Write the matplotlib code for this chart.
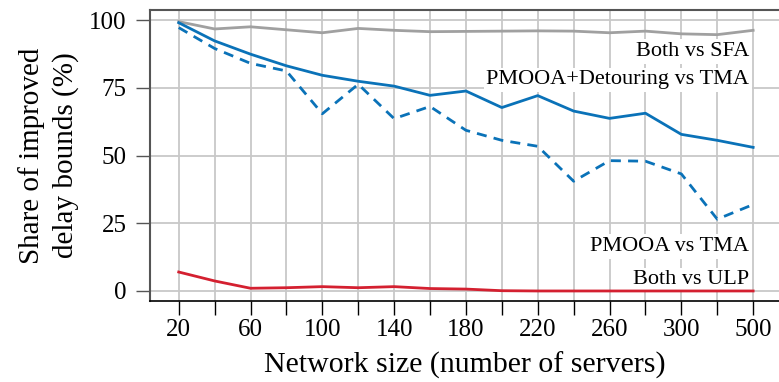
import matplotlib
matplotlib.use("Agg")
import matplotlib.pyplot as plt
import numpy as np

plt.rcParams['font.family'] = ['Liberation Serif', 'DejaVu Serif']

# network sizes (categorical x axis)
sizes = [20, 40, 60, 80, 100, 120, 140, 160, 180, 200, 220, 240, 260, 280, 300, 400, 500]
tick_labels = ['20', '', '60', '', '100', '', '140', '', '180', '', '220', '', '260', '', '300', '', '500']

# share of improved delay bounds (%)
both_vs_sfa = [99.4, 96.7, 97.5, 96.4, 95.3, 96.9, 96.2, 95.7, 95.8, 95.9, 96.0, 95.9, 95.3, 95.9, 94.9, 94.6, 96.2]
pmooa_det_vs_tma = [99.0, 92.3, 87.4, 83.1, 79.6, 77.4, 75.6, 72.2, 73.8, 67.7, 72.1, 66.4, 63.7, 65.6, 57.8, 55.6, 53.0]
pmooa_vs_tma = [97.2, 89.5, 84.0, 81.2, 65.4, 76.3, 63.6, 68.1, 59.3, 55.6, 53.4, 40.5, 48.1, 47.9, 43.2, 26.5, 31.9]
both_vs_ulp = [7.0, 3.7, 1.0, 1.2, 1.6, 1.2, 1.6, 0.9, 0.7, 0.1, 0.0, 0.0, 0.0, 0.0, 0.0, 0.0, 0.0]

grey = '#a0a0a0'
blue = '#0a72b8'
red = '#d42030'

fig = plt.figure(figsize=(7.79, 3.82), dpi=100)
ax = fig.add_axes([150 / 779, 1 - 301 / 382, 629 / 779, 291 / 382])

x = np.arange(len(sizes))
ax.plot(x, both_vs_sfa, color=grey, lw=2, zorder=3)
ax.plot(x, pmooa_det_vs_tma, color=blue, lw=2, zorder=4)
ax.plot(x, pmooa_vs_tma, color=blue, lw=2, ls=(0, (3.6, 2.6)), zorder=4)
ax.plot(x, both_vs_ulp, color=red, lw=2, zorder=4)

ax.set_xlim(-0.8, 16.72)
ax.set_ylim(-3.7, 103.7)
ax.set_xticks(x)
ax.set_xticklabels(tick_labels)
ax.set_yticks([0, 25, 50, 75, 100])
ax.grid(True, color='#c8c8c8', lw=1.3, zorder=0)
ax.set_axisbelow(True)

ax.tick_params(axis='both', direction='out', length=10, width=1, labelsize=18)
ax.tick_params(axis='x', pad=3)
ax.tick_params(axis='y', pad=7, color='#555555')
for side in ['left', 'top']:
    ax.spines[side].set_color('#555555')
    ax.spines[side].set_linewidth(1.5)
ax.spines['bottom'].set_color('black')
ax.spines['bottom'].set_linewidth(1.2)
ax.spines['right'].set_visible(False)

ax.set_xlabel('Network size (number of servers)', fontsize=21.5, labelpad=8)
ax.set_ylabel('Share of improved\ndelay bounds (%)', fontsize=21, labelpad=7, linespacing=1.35)

# series labels, white boxes hide the grid behind them
box = dict(facecolor='white', edgecolor='none', pad=2)
labels = [('Both vs SFA', 86.7), ('PMOOA+Detouring vs TMA', 76.3),
          ('PMOOA vs TMA', 14.8), ('Both vs ULP', 2.5)]
for text, yv in labels:
    ax.text(15.89, yv, text, ha='right', va='baseline', fontsize=16, bbox=box, zorder=2.5)

fig.savefig('out.png', dpi=100)
